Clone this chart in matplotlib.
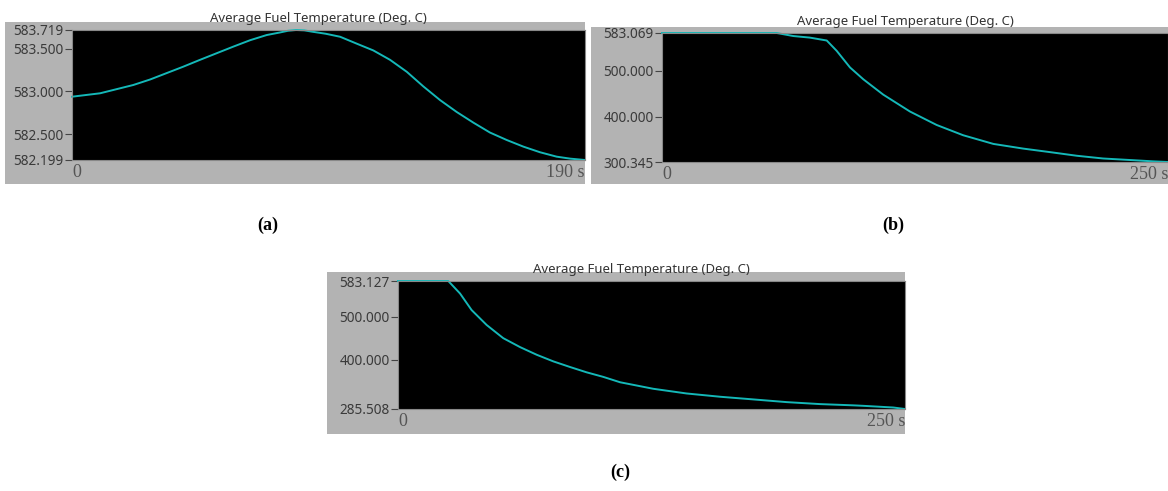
import matplotlib.pyplot as plt
from matplotlib.patches import Rectangle

# (a) time [s] and temperature [deg C]
t_a = [0, 10.4, 22.7, 28.9, 41.2, 47.4, 59.7, 66, 72.1, 77, 80, 83, 86, 88.8, 94, 99.3,
       105.4, 111.6, 117.8, 124, 130.1, 136.3, 142.5, 148.7, 154.8, 161, 167.2, 173.3,
       179.5, 184.5, 190]
v_a = [582.939, 582.979, 583.076, 583.14, 583.29, 583.37, 583.524, 583.60, 583.66, 583.69,
       583.71, 583.719, 583.715, 583.70, 583.675, 583.64, 583.56, 583.48, 583.37, 583.23,
       583.06, 582.90, 582.76, 582.635, 582.52, 582.433, 582.355, 582.29, 582.238,
       582.215, 582.199]
yt_a = [582.199, 582.5, 583.0, 583.5, 583.719]

# (b)
t_b = [0, 56.7, 64.9, 73, 81.4, 86.3, 92.9, 99.5, 109.3, 122.5, 135.7, 148.8, 163.7,
       178.5, 191.7, 205, 218, 232, 242.6, 250]
v_b = [583.069, 583.069, 576.4, 573.0, 566.6, 544.0, 507.5, 481.5, 448.0, 411.0, 381.5,
       359.0, 340.0, 329.7, 322.0, 314.0, 308.0, 304.5, 301.8, 300.345]
yt_b = [300.345, 400.0, 500.0, 583.069]

# (c)
t_c = [0, 24.8, 30.6, 36.3, 43.7, 51.9, 60.2, 68.4, 76.6, 84.8, 93, 101.2, 109.5, 125.9,
       142.3, 158.8, 175.2, 191.7, 208.1, 224.5, 229, 244.2, 250]
v_c = [583.127, 583.127, 554.0, 515.5, 480.9, 450.2, 429.4, 411.6, 396.2, 383.2, 370.8,
       360.2, 347.7, 332.5, 321.6, 314.0, 307.8, 301.5, 296.9, 294.0, 293.0, 289.0, 285.508]
yt_c = [285.508, 400.0, 500.0, 583.127]

W, H = 1168, 491
fig = plt.figure(figsize=(W / 100, H / 100), dpi=100)
fig.patch.set_facecolor("white")

GREY = "#b3b3b3"
TXT = "#3a3a3a"


def panel(box, plot, t, v, yticks, tmax, letter, letter_xy):
    # box / plot in pixels: (left, top, right, bottom)
    bl, bt, br, bb = box
    fig.patches.append(Rectangle((bl / W, 1 - bb / H), (br - bl) / W, (bb - bt) / H,
                                 transform=fig.transFigure, facecolor=GREY,
                                 edgecolor="none", zorder=-5))
    pl, pt, pr, pb = plot
    ax = fig.add_axes([pl / W, 1 - pb / H, (pr - pl) / W, (pb - pt) / H])
    ax.set_facecolor("black")
    ax.plot(t, v, color="#14b8b8", linewidth=1.4, clip_on=False)
    ax.set_xlim(0, tmax)
    ax.set_ylim(yticks[0], yticks[-1])
    ax.set_yticks(yticks, ["%.3f" % y for y in yticks])
    ax.tick_params(axis="y", length=5, width=0.8, color="#444444", labelcolor=TXT,
                   labelsize=9.8, pad=1)
    for lab in ax.get_yticklabels():
        lab.set_fontfamily("Noto Sans")
    ax.set_xticks([0, tmax], ["0", "%d s" % tmax])
    ax.tick_params(axis="x", length=0, labelcolor="#555555", labelsize=13, pad=3)
    xl = ax.get_xticklabels()
    for lab in xl:
        lab.set_fontfamily("Liberation Serif")
    xl[0].set_ha("left")
    xl[1].set_ha("right")
    for s in ax.spines.values():
        s.set_color("#888888")
        s.set_linewidth(0.8)
    fig.text(((pl + pr) / 2 - 10) / W, 1 - (pt - 5) / H, "Average Fuel Temperature (Deg. C)",
             ha="center", va="bottom", fontsize=9.5, color="#333333", family="Noto Sans")
    fig.text(letter_xy[0] / W, 1 - letter_xy[1] / H, letter, ha="center", va="center",
             fontsize=13, fontweight="bold", family="Liberation Serif")
    return ax


panel((5, 22, 585, 184), (72, 30, 585, 160), t_a, v_a, yt_a, 190, "(a)", (268, 225))
panel((591, 27, 1168, 184), (662, 33, 1168, 162), t_b, v_b, yt_b, 250, "(b)", (893, 225))
panel((327, 272, 905, 434), (398, 281, 905, 409), t_c, v_c, yt_c, 250, "(c)", (620, 472))

fig.savefig("out.png", dpi=100)
